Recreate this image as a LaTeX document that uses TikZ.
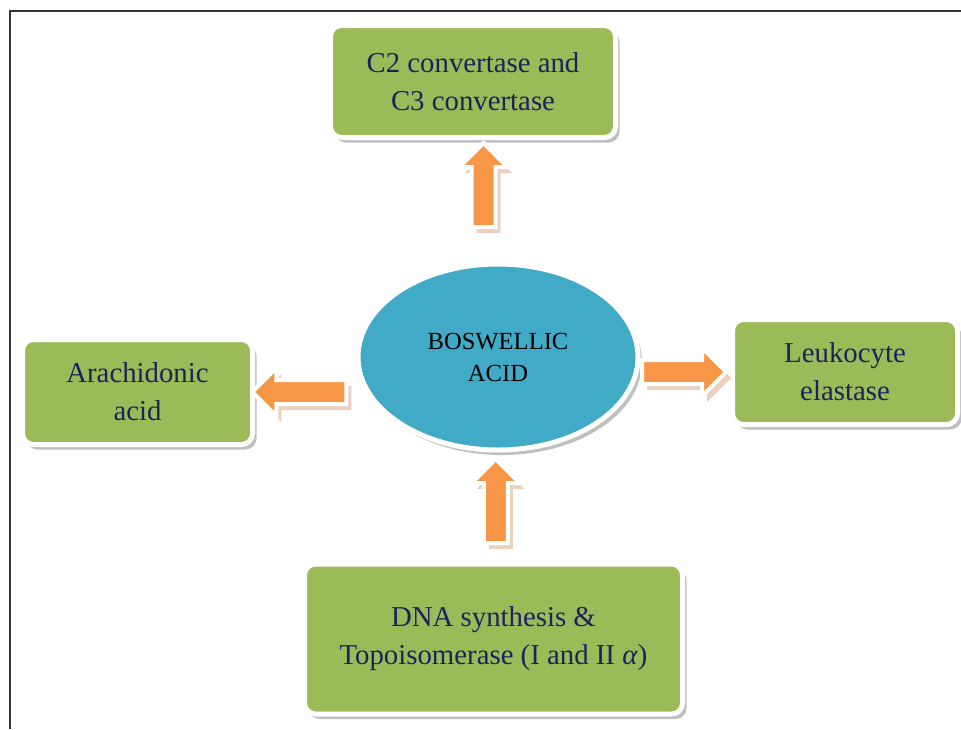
\documentclass[tikz,border=0pt]{standalone}
\usepackage{fontspec}
\setmainfont{Liberation Serif}
\usetikzlibrary{positioning,calc,shapes.geometric,shapes.arrows,shadows}

\begin{document}
\begin{tikzpicture}[x=1pt,y=-1pt,
  box/.style={draw=white,line width=5pt,fill=boxgreen,rounded corners=11pt,
    align=center,text=boxtext,inner sep=0pt,font=\fontsize{28.8}{38}\selectfont,
    drop shadow={shadow xshift=4pt,shadow yshift=-5pt,fill=black!50}},
  core/.style={ellipse,draw=white,line width=5pt,fill=coreblue,inner sep=0pt,
    align=center,font=\fontsize{24.6}{32}\selectfont,
    minimum width=280pt,minimum height=186pt,
    drop shadow={shadow xshift=4pt,shadow yshift=-5pt,fill=black!50}},
  push/.style={single arrow,fill=arrorange,draw=white,line width=4pt,
    inner sep=10pt,single arrow head extend=12pt,
    drop shadow={shadow xshift=5pt,shadow yshift=-6pt,fill=arrtan}},
  frame/.style={draw=black!80,line width=1.6pt}]
\definecolor{boxgreen}{HTML}{9BBB59}
\definecolor{boxtext}{HTML}{1F2159}
\definecolor{coreblue}{HTML}{40AAC7}
\definecolor{arrorange}{HTML}{F79646}
\definecolor{arrtan}{HTML}{D6A27E}
\useasboundingbox (0,0) rectangle (961,729);
\draw[frame] (10,729) -- (10,11) -- (961,11);
% the compound and what it acts on
\node[core] (acid) at (498,357) {BOSWELLIC\\ACID};
\node[box,minimum width=285pt,minimum height=112pt] (conv) at (473,81.5) {C2 convertase and\\C3 convertase};
\node[box,minimum width=230pt,minimum height=105pt] (arach) at (137.5,392) {Arachidonic\\acid};
\node[box,minimum width=225pt,minimum height=105pt] (leuk) at (845,372) {Leukocyte\\elastase};
\node[box,minimum width=378pt,minimum height=150pt] (dna) at (493.5,639) {DNA synthesis \&\\Topoisomerase (I and II \textit{α})};
% block arrows
\node[push,minimum height=84pt,rotate=90] (toconv) at ($(acid.north)!0.58!(conv.south)$) {};
\node[push,minimum height=94pt,rotate=180] (toarach) at ($(arach.east)!0.5!(acid.west |- arach.east)$) {};
\node[push,minimum height=84pt] (toleuk) at ($(acid.east |- leuk.west)!0.42!(leuk.west)$) {};
\node[push,minimum height=84pt,rotate=90] (fromdna) at ($(dna.north)!0.5!(acid.south)$) {};
\end{tikzpicture}
\end{document}
